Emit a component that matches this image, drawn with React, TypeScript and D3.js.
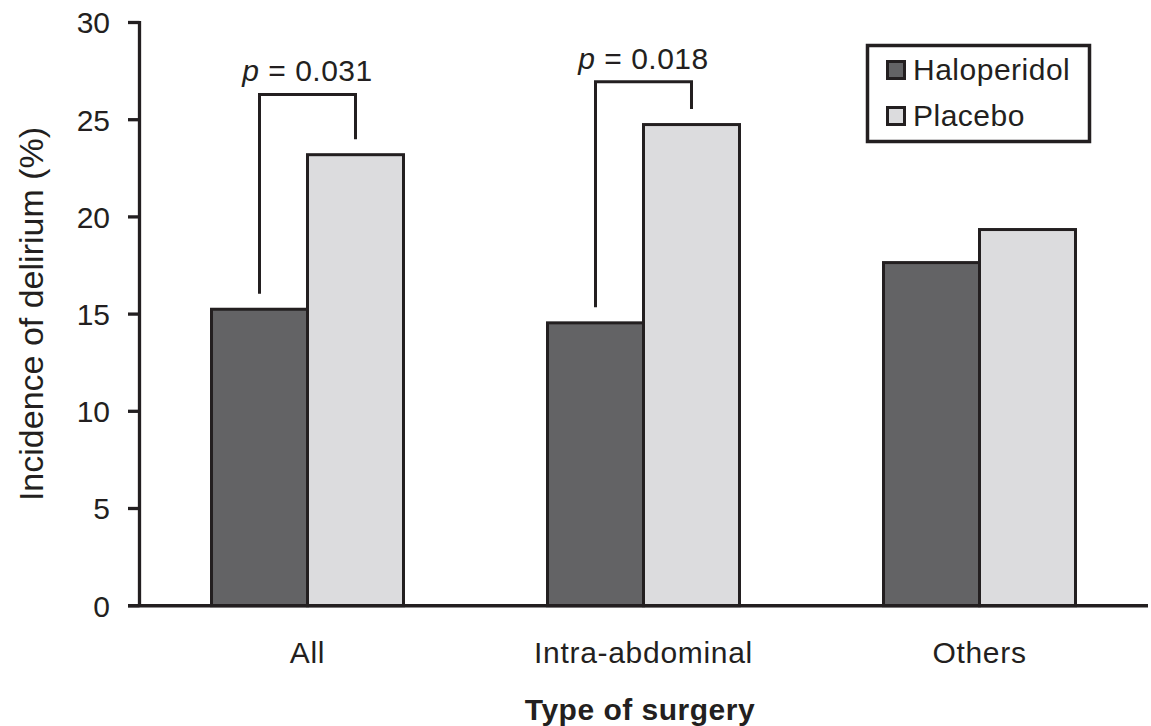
import React from 'react';
import * as d3 from 'd3';

// chart values
const surgeryTypes = ['All', 'Intra-abdominal', 'Others'];
const groups = ['Haloperidol', 'Placebo'];
const haloperidol = [15.25, 14.55, 17.65];
const placebo = [23.2, 24.75, 19.35];
const yTicks = [0, 5, 10, 15, 20, 25, 30];

// significance brackets: which category, bracket top value, label
const bracketCats = ['All', 'Intra-abdominal'];
const bracketTops = [26.3, 26.95];
const bracketP = ['0.031', '0.018'];

const W = 1151;
const H = 726;
const INK = '#231f20';
const FONT = '"Liberation Sans", Arial, Helvetica, sans-serif';
const colors = { Haloperidol: '#636365', Placebo: '#dcdcde' };

const App = () => {
  const x = d3
    .scaleBand()
    .domain(surgeryTypes)
    .range([139.5, 1147.5])
    .paddingInner(0.4286)
    .paddingOuter(0.2143);

  const xSub = d3.scaleBand().domain(groups).range([0, x.bandwidth()]).padding(0);

  const y = d3.scaleLinear().domain([0, 30]).range([605.7, 22.5]);

  const rows = surgeryTypes.map((cat, i) => ({
    cat,
    values: [
      { key: 'Haloperidol', v: haloperidol[i] },
      { key: 'Placebo', v: placebo[i] },
    ],
  }));

  const legGap = 0.8;

  return (
    <svg
      width={W}
      height={H}
      style={{ position: 'absolute', left: 0, top: 0, background: '#fff' }}
      fontFamily={FONT}
    >
      {/* bars */}
      {rows.map(r => (
        <g key={r.cat} transform={`translate(${x(r.cat)},0)`}>
          {r.values.map(d => (
            <rect
              key={d.key}
              x={xSub(d.key)}
              y={y(d.v)}
              width={xSub.bandwidth()}
              height={y(0) - y(d.v)}
              fill={colors[d.key]}
              stroke={INK}
              strokeWidth={3}
            />
          ))}
        </g>
      ))}

      {/* y axis */}
      <line x1={139.5} x2={139.5} y1={y(30) - 1.5} y2={y(0)} stroke={INK} strokeWidth={3.3} />
      {yTicks.map(t => (
        <g key={t}>
          <line x1={128} x2={139.5} y1={y(t)} y2={y(t)} stroke={INK} strokeWidth={3.3} />
          <text
            x={110}
            y={y(t)}
            dy="0.36em"
            textAnchor="end"
            fontSize={30}
            fill={INK}
          >
            {t}
          </text>
        </g>
      ))}
      {/* x axis */}
      <line x1={128} x2={1148} y1={y(0)} y2={y(0)} stroke={INK} strokeWidth={3.6} />

      {surgeryTypes.map(c => (
        <text
          key={c}
          x={x(c) + x.bandwidth() / 2}
          y={663}
          textAnchor="middle"
          fontSize={30}
          letterSpacing={0.7}
          fill={INK}
        >
          {c}
        </text>
      ))}

      <text x={640} y={720} textAnchor="middle" fontSize={30} fontWeight="bold" fill={INK} letterSpacing={0.5}>
        Type of surgery
      </text>

      <text
        transform={`translate(43,314) rotate(-90)`}
        textAnchor="middle"
        fontSize={34}
        fill={INK}
      >
        Incidence of delirium (%)
      </text>

      {/* significance brackets */}
      {bracketCats.map((c, i) => {
        const idx = surgeryTypes.indexOf(c);
        const xl = x(c) + xSub('Haloperidol') + xSub.bandwidth() / 2;
        const xr = x(c) + xSub('Placebo') + xSub.bandwidth() / 2;
        const top = y(bracketTops[i]);
        const path = d3.path();
        path.moveTo(xl, y(haloperidol[idx] + legGap));
        path.lineTo(xl, top);
        path.lineTo(xr, top);
        path.lineTo(xr, y(placebo[idx] + legGap));
        return (
          <g key={c}>
            <path d={path.toString()} fill="none" stroke={INK} strokeWidth={3} />
            <text
              x={(xl + xr) / 2}
              y={top - 13}
              textAnchor="middle"
              fontSize={30}
              fill={INK}
              letterSpacing={0.5}
            >
              <tspan fontStyle="italic">p</tspan> = {bracketP[i]}
            </text>
          </g>
        );
      })}

      {/* legend */}
      <g>
        <rect x={867.5} y={45.5} width={222} height={96} fill="#fff" stroke={INK} strokeWidth={3.5} />
        {groups.map((g, i) => (
          <g key={g} transform={`translate(0,${i * 46})`}>
            <rect x={887.5} y={61.5} width={17} height={17} fill={colors[g]} stroke={INK} strokeWidth={3} />
            <text x={913} y={80} fontSize={30} fill={INK} letterSpacing={0.5}>
              {g}
            </text>
          </g>
        ))}
      </g>
    </svg>
  );
};

export default App;
